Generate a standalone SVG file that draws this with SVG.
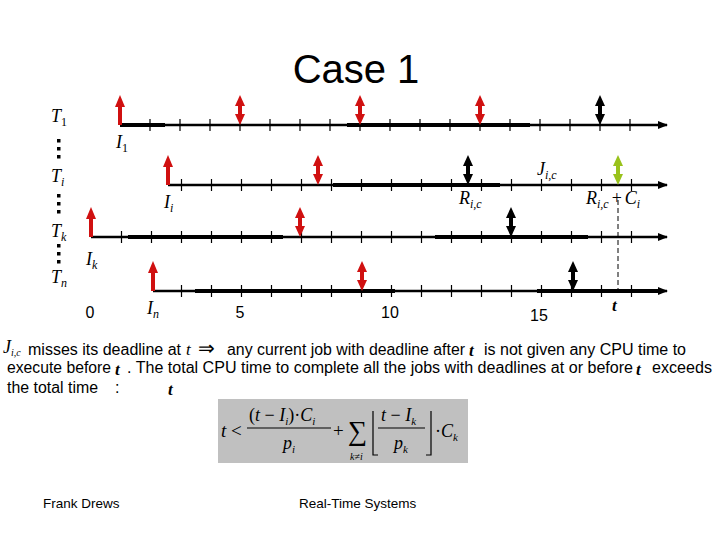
<svg xmlns="http://www.w3.org/2000/svg" xmlns:xlink="http://www.w3.org/1999/xlink" width="720" height="540" viewBox="0 0 720 540">
<style>
.sans{font-family:"Liberation Sans",Arial,sans-serif;fill:#000}
.math{font-family:"Liberation Serif","Times New Roman",serif;font-style:italic;fill:#000}
.rom{font-family:"Liberation Serif","Times New Roman",serif;font-style:normal;fill:#000}
.tg{font-family:"Liberation Serif","Times New Roman",serif;font-style:italic;font-weight:bold;font-size:17px;fill:#000}
.axis{stroke:#000;stroke-width:2.5;fill:none}
.thick{stroke:#000;stroke-width:4;fill:none}
.tick{stroke:#000;stroke-width:1.2}
.bar{stroke:#000;stroke-width:1.2;fill:none}
</style>
<defs>
<marker id="ah" markerWidth="10" markerHeight="8" refX="9" refY="4" orient="auto" markerUnits="userSpaceOnUse">
<path d="M0,0 L10,4 L0,8 Z" fill="#000"/>
</marker>
<g id="up" fill="currentColor" stroke="currentColor">
<line x1="0" y1="0" x2="0" y2="-20" stroke-width="4"/>
<polygon points="-5,-18 5,-18 0,-30" stroke="none"/>
</g>
<g id="dbl" fill="currentColor" stroke="currentColor">
<line x1="0" y1="-10" x2="0" y2="-20" stroke-width="4"/>
<polygon points="-5,-19 5,-19 0,-30" stroke="none"/>
<polygon points="-5,-11 5,-11 0,0" stroke="none"/>
</g>
</defs>

<text class="sans" x="356" y="83" font-size="40" text-anchor="middle">Case 1</text>

<g id="connectors">
<g id="line1">
<line class="axis" x1="120" y1="125" x2="667" y2="125" marker-end="url(#ah)"/>
<line class="thick" x1="120" y1="125" x2="165" y2="125"/>
<line class="thick" x1="347" y1="125" x2="530" y2="125"/>
<path class="tick" d="M150,119V131M180,119V131M210,119V131M240,119V131M270,119V131M300,119V131M330,119V131M360,119V131M390,119V131M420,119V131M450,119V131M480,119V131M510,119V131M540,119V131M570,119V131M600,119V131M630,119V131"/>
<use xlink:href="#up" x="120" y="125" color="#d01010"/>
<use xlink:href="#dbl" x="240" y="125" color="#d01010"/>
<use xlink:href="#dbl" x="360" y="125" color="#d01010"/>
<use xlink:href="#dbl" x="480" y="125" color="#d01010"/>
<use xlink:href="#dbl" x="600" y="125" color="#000"/>
</g>
<g id="line2">
<line class="axis" x1="168" y1="185" x2="667" y2="185" marker-end="url(#ah)"/>
<line class="thick" x1="333" y1="185" x2="500" y2="185"/>
<path class="tick" d="M181.5,179V191M211.5,179V191M241.5,179V191M271.5,179V191M301.5,179V191M331.5,179V191M361.5,179V191M391.5,179V191M421.5,179V191M451.5,179V191M481.5,179V191M511.5,179V191M541.5,179V191M571.5,179V191M601.5,179V191M631.5,179V191"/>
<use xlink:href="#up" x="168" y="185" color="#d01010"/>
<use xlink:href="#dbl" x="318" y="185" color="#d01010"/>
<use xlink:href="#dbl" x="468" y="185" color="#000"/>
<use xlink:href="#dbl" x="618" y="185" color="#99c21c"/>
</g>
<g id="line3">
<line class="axis" x1="91" y1="237" x2="667" y2="237" marker-end="url(#ah)"/>
<line class="thick" x1="128" y1="237" x2="283" y2="237"/>
<line class="thick" x1="435" y1="237" x2="588" y2="237"/>
<path class="tick" d="M121.5,231V243M151.5,231V243M181.5,231V243M211.5,231V243M241.5,231V243M271.5,231V243M301.5,231V243M331.5,231V243M361.5,231V243M391.5,231V243M421.5,231V243M451.5,231V243M481.5,231V243M511.5,231V243M541.5,231V243M571.5,231V243M601.5,231V243M631.5,231V243"/>
<use xlink:href="#up" x="91" y="237" color="#d01010"/>
<use xlink:href="#dbl" x="300" y="237" color="#d01010"/>
<use xlink:href="#dbl" x="511" y="237" color="#000"/>
</g>
<g id="line4">
<line class="axis" x1="153" y1="291" x2="667" y2="291" marker-end="url(#ah)"/>
<line class="thick" x1="195" y1="291" x2="395" y2="291"/>
<line class="thick" x1="537" y1="291" x2="660" y2="291"/>
<path class="tick" d="M181.5,285V297M211.5,285V297M241.5,285V297M271.5,285V297M301.5,285V297M331.5,285V297M361.5,285V297M391.5,285V297M421.5,285V297M451.5,285V297M481.5,285V297M511.5,285V297M541.5,285V297M571.5,285V297M601.5,285V297M631.5,285V297"/>
<use xlink:href="#up" x="153" y="291" color="#d01010"/>
<use xlink:href="#dbl" x="362" y="291" color="#d01010"/>
<use xlink:href="#dbl" x="573" y="291" color="#000"/>
</g>
<line x1="618" y1="200" x2="618" y2="292" stroke="#000" stroke-width="1" stroke-dasharray="5,3"/>
</g>

<g id="task-labels">
<text class="math" x="51" y="122" font-size="18">T<tspan class="rom" font-size="12" dy="4">1</tspan></text>
<text class="math" x="51" y="182" font-size="18">T<tspan font-size="12" dy="4">i</tspan></text>
<text class="math" x="51" y="237" font-size="18">T<tspan font-size="12" dy="4">k</tspan></text>
<text class="math" x="51" y="283" font-size="18">T<tspan font-size="12" dy="4">n</tspan></text>
<g fill="#000">
<rect x="57" y="139" width="3.5" height="3.5"/><rect x="57" y="147" width="3.5" height="3.5"/><rect x="57" y="155" width="3.5" height="3.5"/>
<rect x="57" y="194" width="3.5" height="3.5"/><rect x="57" y="202" width="3.5" height="3.5"/><rect x="57" y="210" width="3.5" height="3.5"/>
<rect x="57" y="244" width="3.5" height="3.5"/><rect x="57" y="252" width="3.5" height="3.5"/><rect x="57" y="260" width="3.5" height="3.5"/>
</g>
<text class="math" x="116" y="148" font-size="18">I<tspan class="rom" font-size="12" dy="4">1</tspan></text>
<text class="math" x="164" y="208" font-size="18">I<tspan font-size="12" dy="4">i</tspan></text>
<text class="math" x="86" y="265" font-size="18">I<tspan font-size="12" dy="4">k</tspan></text>
<text class="math" x="147" y="314" font-size="18">I<tspan font-size="12" dy="4">n</tspan></text>
<text class="math" x="537" y="175" font-size="18">J<tspan font-size="12" dy="4">i,c</tspan></text>
<text class="math" x="459" y="204" font-size="18">R<tspan font-size="12" dy="4">i,c</tspan></text>
<text class="math" x="586" y="204" font-size="18">R<tspan font-size="12" dy="4">i,c</tspan><tspan class="rom" font-size="18" dy="-4" dx="3">+</tspan><tspan dx="3">C</tspan><tspan font-size="12" dy="4">i</tspan></text>
</g>

<g id="axis-numbers" class="sans" font-size="16" text-anchor="middle">
<text x="90" y="318">0</text>
<text x="240" y="318">5</text>
<text x="390" y="318">10</text>
<text x="539" y="321">15</text>
</g>
<text class="tg" x="612" y="311">t</text>

<g id="explanation" class="sans" font-size="16">
<text class="math" x="3" y="353" font-size="18">J<tspan font-size="10" dy="3">i,c</tspan></text>
<text x="28" y="355" textLength="153" lengthAdjust="spacingAndGlyphs">misses its deadline at</text>
<text class="math" x="186" y="355" font-size="17">t</text>
<text class="rom" x="198" y="355" font-size="20">⇒</text>
<text x="227" y="355" textLength="238" lengthAdjust="spacingAndGlyphs">any current job with deadline after</text>
<text class="tg" x="469" y="356">t</text>
<text x="484" y="355" textLength="202" lengthAdjust="spacingAndGlyphs">is not given any CPU time to</text>
<text x="7" y="373" textLength="104" lengthAdjust="spacingAndGlyphs">execute before</text>
<text class="tg" x="115" y="375">t</text>
<text x="127" y="373" textLength="506" lengthAdjust="spacingAndGlyphs">. The total CPU time to complete all the jobs with deadlines at or before</text>
<text class="tg" x="636" y="375">t</text>
<text x="652" y="373" textLength="60" lengthAdjust="spacingAndGlyphs">exceeds</text>
<text x="7" y="393" textLength="91" lengthAdjust="spacingAndGlyphs">the total time</text>
<text x="115" y="393">:</text>
<text class="tg" x="168" y="395">t</text>
</g>

<g id="formula">
<rect x="218" y="399" width="250" height="64" fill="#c0c0c0"/>
<text class="math" x="221" y="437" font-size="19">t</text>
<text class="rom" x="231" y="437" font-size="19">&lt;</text>
<text class="rom" x="249" y="421" font-size="18">(<tspan class="math">t</tspan> − <tspan class="math">I</tspan><tspan class="math" font-size="11" dy="4">i</tspan><tspan dy="-4">)·</tspan><tspan class="math">C</tspan><tspan class="math" font-size="11" dy="4">i</tspan></text>
<line class="bar" x1="247" y1="428" x2="331" y2="428"/>
<text class="math" x="283" y="449" font-size="18">p<tspan font-size="11" dy="4">i</tspan></text>
<text class="rom" x="333" y="437" font-size="19">+</text>
<text class="rom" x="348" y="440" font-size="27">∑</text>
<text class="math" x="350" y="460" font-size="10">k≠i</text>
<path class="bar" d="M373,411V455H378"/>
<text class="math" x="381" y="421" font-size="18">t<tspan class="rom"> − </tspan>I<tspan font-size="11" dy="4">k</tspan></text>
<line class="bar" x1="378" y1="428" x2="425" y2="428"/>
<text class="math" x="394" y="449" font-size="18">p<tspan font-size="11" dy="4">k</tspan></text>
<path class="bar" d="M431,411V455H426"/>
<text class="rom" x="435" y="437" font-size="18">·<tspan class="math">C</tspan><tspan class="math" font-size="11" dy="4">k</tspan></text>
</g>

<g id="footer" class="sans" font-size="13.5">
<text x="43" y="508">Frank Drews</text>
<text x="299" y="508">Real-Time Systems</text>
</g>
</svg>
